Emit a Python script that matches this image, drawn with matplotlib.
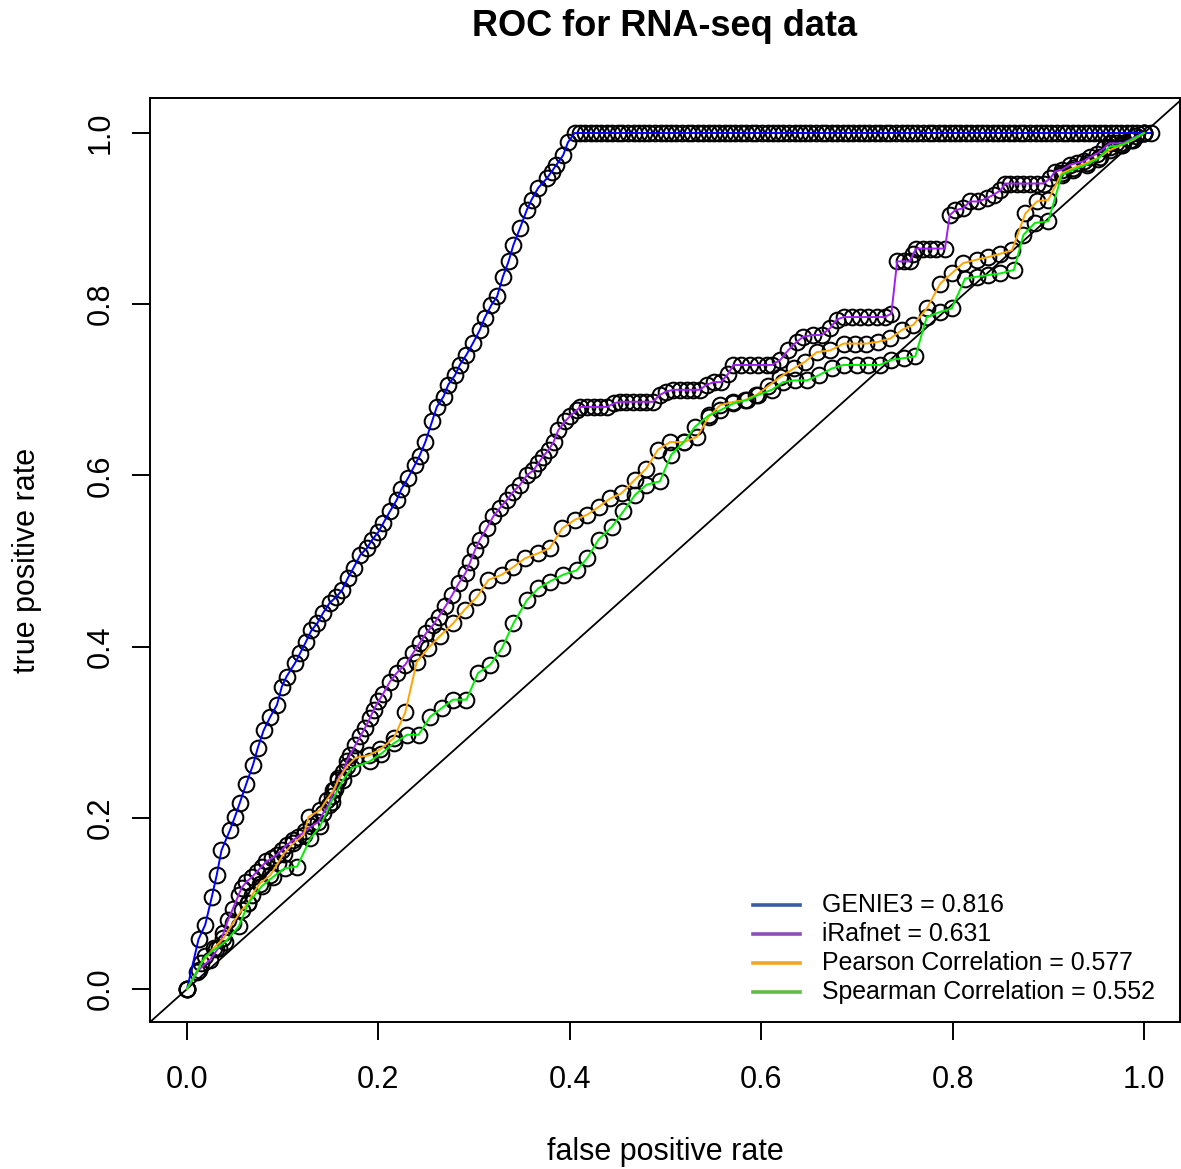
import matplotlib
matplotlib.use("Agg")
import matplotlib.pyplot as plt

plt.rcParams["font.family"] = ["Liberation Sans", "DejaVu Sans"]

# ROC points for each method (false positive rate, true positive rate)
genie3_fpr = [
    0.0, 0.012, 0.019, 0.026, 0.031, 0.036, 0.045, 0.050, 0.055, 0.062,
    0.069, 0.074, 0.080, 0.087, 0.094, 0.099, 0.104, 0.113, 0.118, 0.124,
    0.130, 0.136, 0.142, 0.149, 0.156, 0.162, 0.168, 0.174, 0.181, 0.188,
    0.193, 0.200, 0.205, 0.212, 0.219, 0.224, 0.231, 0.238, 0.243, 0.249,
    0.256, 0.261, 0.268, 0.273, 0.280, 0.285, 0.292, 0.299, 0.306, 0.311,
    0.318, 0.324, 0.330, 0.336, 0.341, 0.348, 0.355, 0.360, 0.367, 0.376,
    0.381, 0.386, 0.393, 0.398,
    0.405, 0.411, 0.416, 0.422, 0.427, 0.433, 0.439, 0.444, 0.450, 0.455,
    0.461, 0.467, 0.472, 0.478, 0.483, 0.489, 0.495, 0.500, 0.506, 0.511,
    0.517, 0.523, 0.528, 0.534, 0.539, 0.545, 0.551, 0.556, 0.562, 0.567,
    0.573, 0.579, 0.584, 0.590, 0.595, 0.601, 0.607, 0.612, 0.618, 0.623,
    0.629, 0.635, 0.640, 0.646, 0.651, 0.657, 0.663, 0.668, 0.674, 0.679,
    0.685, 0.691, 0.696, 0.702, 0.707, 0.713, 0.719, 0.724, 0.730, 0.735,
    0.741, 0.747, 0.752, 0.758, 0.763, 0.769, 0.775, 0.780, 0.786, 0.791,
    0.797, 0.803, 0.808, 0.814, 0.819, 0.825, 0.831, 0.836, 0.842, 0.847,
    0.853, 0.859, 0.864, 0.870, 0.875, 0.881, 0.887, 0.892, 0.898, 0.903,
    0.909, 0.915, 0.920, 0.926, 0.931, 0.937, 0.943, 0.948, 0.954, 0.959,
    0.965, 0.971, 0.976, 0.982, 0.987, 0.993, 1.000, 1.007,
]
genie3_tpr = [
    0.0, 0.058, 0.075, 0.108, 0.133, 0.162, 0.186, 0.201, 0.217, 0.240,
    0.262, 0.282, 0.302, 0.318, 0.332, 0.353, 0.365, 0.381, 0.392, 0.405,
    0.419, 0.427, 0.439, 0.451, 0.458, 0.466, 0.480, 0.492, 0.507, 0.515,
    0.524, 0.534, 0.544, 0.558, 0.571, 0.584, 0.597, 0.612, 0.623, 0.639,
    0.663, 0.680, 0.692, 0.706, 0.717, 0.729, 0.741, 0.755, 0.770, 0.784,
    0.799, 0.809, 0.832, 0.850, 0.869, 0.889, 0.910, 0.922, 0.936, 0.947,
    0.955, 0.963, 0.974, 0.989,
    1.0, 1.0, 1.0, 1.0, 1.0, 1.0, 1.0, 1.0, 1.0, 1.0,
    1.0, 1.0, 1.0, 1.0, 1.0, 1.0, 1.0, 1.0, 1.0, 1.0,
    1.0, 1.0, 1.0, 1.0, 1.0, 1.0, 1.0, 1.0, 1.0, 1.0,
    1.0, 1.0, 1.0, 1.0, 1.0, 1.0, 1.0, 1.0, 1.0, 1.0,
    1.0, 1.0, 1.0, 1.0, 1.0, 1.0, 1.0, 1.0, 1.0, 1.0,
    1.0, 1.0, 1.0, 1.0, 1.0, 1.0, 1.0, 1.0, 1.0, 1.0,
    1.0, 1.0, 1.0, 1.0, 1.0, 1.0, 1.0, 1.0, 1.0, 1.0,
    1.0, 1.0, 1.0, 1.0, 1.0, 1.0, 1.0, 1.0, 1.0, 1.0,
    1.0, 1.0, 1.0, 1.0, 1.0, 1.0, 1.0, 1.0, 1.0, 1.0,
    1.0, 1.0, 1.0, 1.0, 1.0, 1.0, 1.0, 1.0, 1.0, 1.0,
    1.0, 1.0, 1.0, 1.0, 1.0, 1.0, 1.0, 1.0,
]

irafnet_fpr = [
    0.0, 0.012, 0.024, 0.033, 0.038, 0.043, 0.048, 0.054, 0.057, 0.062,
    0.068, 0.073, 0.078, 0.083, 0.089, 0.094, 0.099, 0.104, 0.111, 0.116,
    0.123, 0.130, 0.137, 0.142, 0.148, 0.151, 0.155, 0.158, 0.163, 0.167,
    0.170, 0.176, 0.181, 0.186, 0.191, 0.195, 0.200, 0.205, 0.212, 0.219,
    0.228, 0.236, 0.243, 0.250, 0.257, 0.263, 0.270, 0.277, 0.284, 0.291,
    0.296, 0.301, 0.306, 0.313, 0.320, 0.327, 0.334, 0.341, 0.348, 0.355,
    0.362, 0.367, 0.372, 0.378, 0.383, 0.388, 0.395, 0.400, 0.407, 0.411,
    0.418, 0.425, 0.432, 0.439, 0.446, 0.452, 0.459, 0.466, 0.473, 0.480,
    0.487, 0.494, 0.501, 0.508, 0.515, 0.522, 0.529, 0.536, 0.543, 0.551,
    0.558, 0.565, 0.571, 0.579, 0.588, 0.597, 0.606, 0.611, 0.620, 0.628,
    0.637, 0.644, 0.654, 0.663, 0.672, 0.679, 0.686, 0.695, 0.703, 0.712,
    0.721, 0.729, 0.736, 0.742, 0.749, 0.755, 0.759, 0.762, 0.769, 0.776,
    0.783, 0.792, 0.797, 0.803, 0.811, 0.818, 0.827, 0.836, 0.843, 0.850,
    0.855, 0.860, 0.867, 0.874, 0.881, 0.888, 0.895, 0.902, 0.907, 0.914,
    0.923, 0.930, 0.937, 0.944, 0.951, 0.958, 0.964, 0.971, 0.978, 0.985,
    0.992, 1.000,
]
irafnet_tpr = [
    0.0, 0.022, 0.034, 0.048, 0.065, 0.081, 0.094, 0.110, 0.118, 0.125,
    0.131, 0.137, 0.143, 0.149, 0.153, 0.157, 0.162, 0.168, 0.174, 0.178,
    0.184, 0.190, 0.195, 0.205, 0.215, 0.225, 0.234, 0.246, 0.254, 0.266,
    0.273, 0.285, 0.295, 0.305, 0.316, 0.326, 0.336, 0.345, 0.359, 0.369,
    0.379, 0.392, 0.404, 0.416, 0.425, 0.435, 0.447, 0.460, 0.474, 0.486,
    0.499, 0.513, 0.525, 0.538, 0.552, 0.562, 0.571, 0.581, 0.589, 0.600,
    0.606, 0.614, 0.622, 0.630, 0.639, 0.653, 0.663, 0.669, 0.676, 0.680,
    0.680, 0.680, 0.680, 0.680, 0.684, 0.686, 0.686, 0.686, 0.686, 0.686,
    0.686, 0.694, 0.698, 0.700, 0.700, 0.700, 0.700, 0.700, 0.706, 0.709,
    0.709, 0.718, 0.729, 0.729, 0.729, 0.729, 0.729, 0.729, 0.735, 0.746,
    0.756, 0.762, 0.764, 0.764, 0.772, 0.782, 0.785, 0.785, 0.785, 0.785,
    0.785, 0.785, 0.789, 0.850, 0.850, 0.850, 0.859, 0.865, 0.865, 0.865,
    0.865, 0.865, 0.904, 0.910, 0.912, 0.920, 0.920, 0.924, 0.928, 0.933,
    0.941, 0.941, 0.941, 0.941, 0.941, 0.941, 0.941, 0.947, 0.955, 0.957,
    0.963, 0.965, 0.967, 0.972, 0.976, 0.982, 0.988, 0.988, 0.988, 0.992,
    0.996, 1.000,
]

pearson_fpr = [
    0.0, 0.015, 0.028, 0.038, 0.048, 0.057, 0.064, 0.068, 0.076, 0.087,
    0.095, 0.101, 0.111, 0.122, 0.127, 0.139, 0.146, 0.153, 0.158, 0.167,
    0.176, 0.190, 0.202, 0.216, 0.228, 0.240, 0.252, 0.264, 0.278, 0.290,
    0.303, 0.315, 0.329, 0.341, 0.353, 0.367, 0.379, 0.392, 0.405, 0.418,
    0.430, 0.442, 0.454, 0.468, 0.480, 0.492, 0.505, 0.519, 0.533, 0.545,
    0.557, 0.571, 0.583, 0.595, 0.607, 0.620, 0.634, 0.646, 0.658, 0.672,
    0.686, 0.698, 0.710, 0.722, 0.735, 0.747, 0.759, 0.773, 0.787, 0.799,
    0.811, 0.825, 0.837, 0.850, 0.862, 0.876, 0.888, 0.900, 0.914, 0.926,
    0.940, 0.954, 0.964, 0.977, 0.989, 1.000,
]
pearson_tpr = [
    0.0, 0.030, 0.048, 0.059, 0.077, 0.092, 0.100, 0.110, 0.123, 0.133,
    0.147, 0.158, 0.170, 0.180, 0.201, 0.209, 0.221, 0.232, 0.244, 0.260,
    0.270, 0.273, 0.280, 0.293, 0.323, 0.382, 0.398, 0.412, 0.427, 0.443,
    0.458, 0.478, 0.484, 0.493, 0.503, 0.509, 0.515, 0.538, 0.548, 0.554,
    0.563, 0.573, 0.579, 0.595, 0.608, 0.630, 0.639, 0.639, 0.645, 0.668,
    0.682, 0.686, 0.688, 0.694, 0.704, 0.715, 0.725, 0.733, 0.744, 0.746,
    0.754, 0.754, 0.754, 0.756, 0.760, 0.770, 0.776, 0.795, 0.824, 0.836,
    0.848, 0.852, 0.855, 0.859, 0.863, 0.906, 0.920, 0.922, 0.953, 0.959,
    0.965, 0.972, 0.980, 0.986, 0.992, 1.000,
]

spearman_fpr = [
    0.0, 0.010, 0.019, 0.030, 0.040, 0.054, 0.064, 0.078, 0.090, 0.102,
    0.115, 0.129, 0.139, 0.151, 0.163, 0.172, 0.191, 0.203, 0.216, 0.230,
    0.242, 0.254, 0.266, 0.278, 0.292, 0.304, 0.317, 0.329, 0.341, 0.355,
    0.367, 0.379, 0.393, 0.407, 0.418, 0.430, 0.444, 0.456, 0.468, 0.480,
    0.494, 0.506, 0.519, 0.531, 0.545, 0.557, 0.571, 0.585, 0.597, 0.611,
    0.623, 0.635, 0.648, 0.660, 0.674, 0.686, 0.700, 0.712, 0.724, 0.736,
    0.749, 0.761, 0.773, 0.787, 0.799, 0.813, 0.825, 0.837, 0.850, 0.864,
    0.874, 0.886, 0.900, 0.914, 0.926, 0.940, 0.952, 0.964, 0.977, 0.987,
    1.000,
]
spearman_tpr = [
    0.0, 0.020, 0.038, 0.047, 0.055, 0.073, 0.100, 0.120, 0.131, 0.141,
    0.143, 0.176, 0.190, 0.219, 0.244, 0.258, 0.266, 0.275, 0.287, 0.297,
    0.297, 0.318, 0.328, 0.338, 0.338, 0.369, 0.379, 0.398, 0.427, 0.454,
    0.468, 0.476, 0.484, 0.489, 0.503, 0.525, 0.540, 0.558, 0.577, 0.589,
    0.593, 0.624, 0.639, 0.657, 0.670, 0.676, 0.684, 0.688, 0.694, 0.700,
    0.709, 0.711, 0.711, 0.717, 0.725, 0.729, 0.729, 0.729, 0.729, 0.735,
    0.737, 0.739, 0.785, 0.791, 0.795, 0.830, 0.832, 0.834, 0.836, 0.840,
    0.881, 0.895, 0.897, 0.951, 0.957, 0.963, 0.970, 0.984, 0.986, 0.992,
    1.000,
]

methods = ["GENIE3", "iRafnet", "Pearson Correlation", "Spearman Correlation"]
auc_values = [0.816, 0.631, 0.577, 0.552]
line_colors = ["#0000ff", "#a020f0", "#ffa500", "#00ee00"]
key_colors = ["#3a5ba8", "#8c50b4", "#f4a429", "#5fbd44"]

curves = [
    (genie3_fpr, genie3_tpr),
    (irafnet_fpr, irafnet_tpr),
    (pearson_fpr, pearson_tpr),
    (spearman_fpr, spearman_tpr),
]

fig = plt.figure(figsize=(11.81, 11.69), dpi=100)
ax = fig.add_axes([150 / 1181, 147 / 1169, 1030 / 1181, 924 / 1169])

# open circles for every threshold, coloured lines on top
for fpr, tpr in curves:
    ax.plot(fpr, tpr, "o", mfc="none", mec="black", ms=11.3, mew=1.45, zorder=2)
for (fpr, tpr), col in zip(curves, line_colors):
    ax.plot(fpr, tpr, color=col, lw=1.4, zorder=3)

# chance line
ax.axline((0, 0), (1, 1), color="black", lw=1.3, zorder=1)

ax.set_xlim(-0.0387, 1.0376)
ax.set_ylim(-0.0386, 1.0409)
ax.set_xticks([0.0, 0.2, 0.4, 0.6, 0.8, 1.0])
ax.set_yticks([0.0, 0.2, 0.4, 0.6, 0.8, 1.0])
ax.set_xticklabels(["0.0", "0.2", "0.4", "0.6", "0.8", "1.0"])
ax.set_yticklabels(["0.0", "0.2", "0.4", "0.6", "0.8", "1.0"])

for sp in ax.spines.values():
    sp.set_linewidth(1.4)

ax.tick_params(axis="both", direction="out", length=13, width=1.4,
               labelsize=22, color="black")
ax.tick_params(axis="x", pad=18)
ax.tick_params(axis="y", pad=12, labelrotation=90)
for lbl in ax.get_yticklabels():
    lbl.set_va("center")

fig.text(665 / 1181, 1 - 27 / 1169, "ROC for RNA-seq data", ha="center",
         va="center", fontsize=26, fontweight="bold")
fig.text(665 / 1181, 1 - 1152 / 1169, "false positive rate", ha="center",
         va="center", fontsize=22)
fig.text(27 / 1181, 1 - 560 / 1169, "true positive rate", ha="center",
         va="center", fontsize=22, rotation=90)

# key without frame in the lower right corner
row_y = [0.1270, 0.0956, 0.0642, 0.0328]
for name, auc, col, y in zip(methods, auc_values, key_colors, row_y):
    ax.plot([0.5854, 0.6311], [y, y], color=col, lw=2.6,
            transform=ax.transAxes, clip_on=False, zorder=4)
    ax.text(0.6524, y, f"{name} = {auc:.3f}", transform=ax.transAxes,
            ha="left", va="center", fontsize=17.9)

fig.savefig("out.png", dpi=100)
